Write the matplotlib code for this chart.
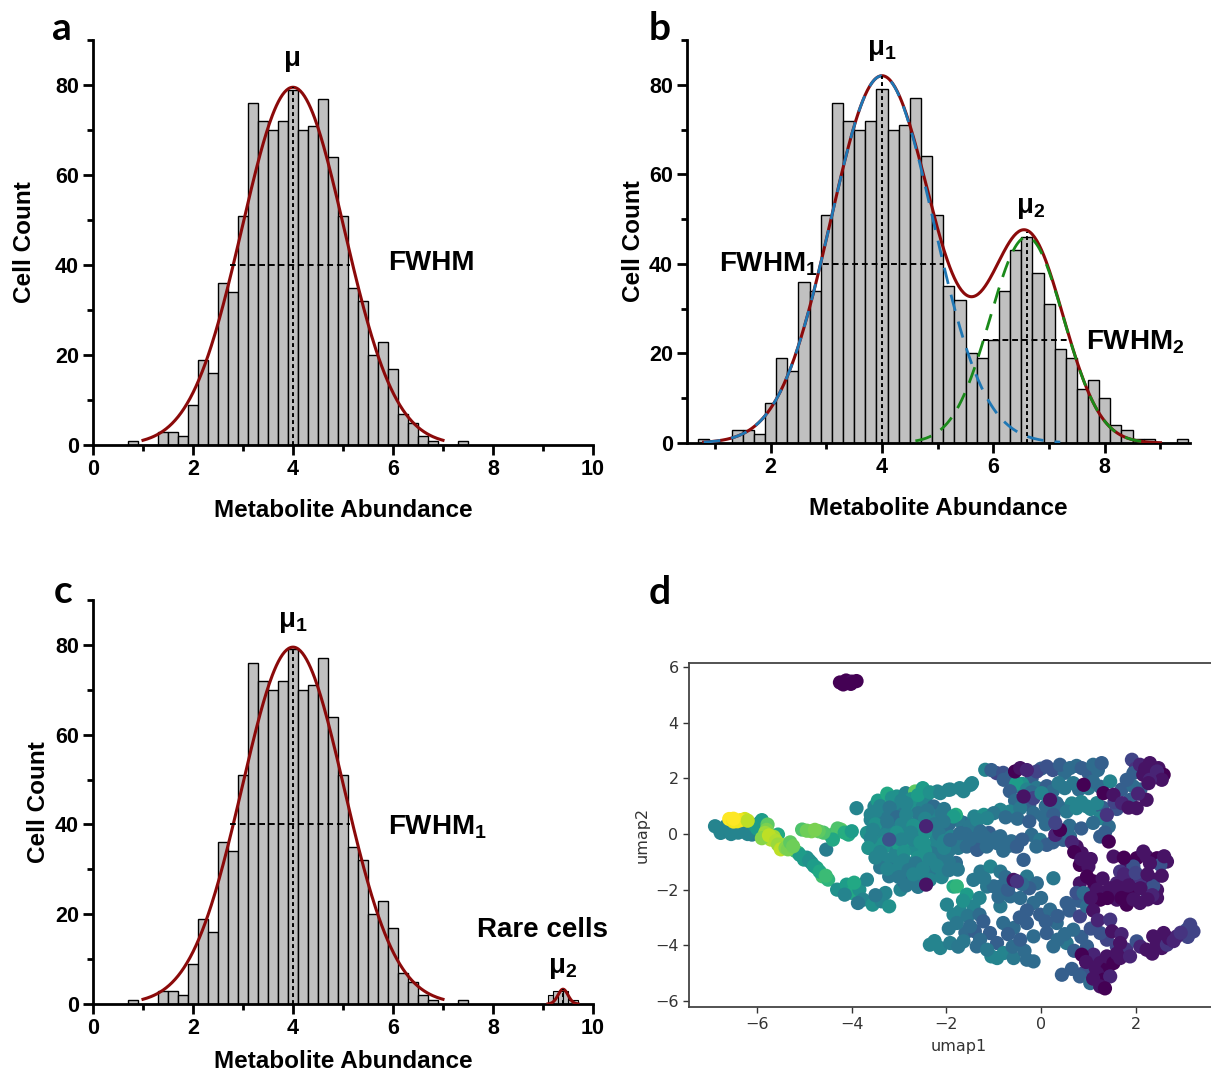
import numpy as np
import matplotlib
matplotlib.use("Agg")
import matplotlib.pyplot as plt
from matplotlib.ticker import MultipleLocator

plt.rcParams["font.family"] = ["Liberation Sans", "DejaVu Sans"]
plt.rcParams["mathtext.fontset"] = "custom"
plt.rcParams["mathtext.bf"] = "Liberation Sans:bold"
plt.rcParams["mathtext.rm"] = "Liberation Sans:bold"

# ---- histogram data (bin centres, counts), bins are 0.2 wide ----
centers_single = [0.8, 1.0, 1.2, 1.4, 1.6, 1.8, 2.0, 2.2, 2.4, 2.6, 2.8, 3.0,
                  3.2, 3.4, 3.6, 3.8, 4.0, 4.2, 4.4, 4.6, 4.8, 5.0, 5.2, 5.4,
                  5.6, 5.8, 6.0, 6.2, 6.4, 6.6, 6.8, 7.0, 7.2, 7.4]
counts_single = [1, 0, 0, 3, 3, 2, 9, 19, 16, 36, 34, 51,
                 76, 72, 70, 72, 79, 70, 71, 77, 64, 51, 35, 32,
                 20, 23, 17, 7, 5, 2, 1, 0, 0, 1]

centers_bimodal = [0.8, 1.0, 1.2, 1.4, 1.6, 1.8, 2.0, 2.2, 2.4, 2.6, 2.8, 3.0,
                   3.2, 3.4, 3.6, 3.8, 4.0, 4.2, 4.4, 4.6, 4.8, 5.0, 5.2, 5.4,
                   5.6, 5.8, 6.0, 6.2, 6.4, 6.6, 6.8, 7.0, 7.2, 7.4, 7.6, 7.8,
                   8.0, 8.2, 8.4, 8.6, 8.8, 9.0, 9.2, 9.4]
counts_bimodal = [1, 0, 0, 3, 3, 2, 9, 19, 16, 36, 34, 51,
                  76, 72, 70, 72, 79, 70, 71, 77, 64, 51, 35, 32,
                  20, 19, 23, 34, 43, 46, 38, 31, 21, 19, 12, 14,
                  10, 4, 3, 1, 1, 0, 0, 1]

# rare population in panel c (0.1 wide bins)
centers_rare = [9.15, 9.25, 9.35, 9.45, 9.55, 9.65]
counts_rare = [2, 3, 3, 3, 1, 1]

# ---- fitted gaussians: (amplitude, mean, sigma, x from, x to) ----
fit_single = (79.5, 4.0, 1.02, 1.0, 7.0)
fit_peak1 = (82.0, 4.0, 0.92, 0.8, 7.2)
fit_peak2 = (46.0, 6.6, 0.66, 4.6, 8.8)
fit_total_range = (0.8, 9.0)
fit_rare = (3.3, 9.4, 0.1, 9.1, 9.7)

# FWHM markers: (y, x start, x end)
fwhm_single = (40, 2.74, 5.14)
fwhm_b1 = (40, 2.94, 5.12)
fwhm_b2 = (23, 5.82, 7.38)

# ---- UMAP embedding, grouped by region: (umap1, umap2, colour value) ----
top_island = [(-4.25, 5.45, 0.0), (-4.12, 5.52, 0.0), (-4.0, 5.48, 0.02),
              (-3.9, 5.5, 0.0), (-4.18, 5.38, 0.0), (-4.02, 5.4, 0.0)]

left_tail = [(-6.89, 0.28, 0.45), (-6.77, 0.04, 0.45), (-6.58, 0.10, 0.42),
             (-6.45, 0.25, 0.45), (-6.30, 0.10, 0.45), (-6.11, -0.02, 0.42),
             (-6.8, 0.18, 0.45), (-6.65, 0.3, 0.45), (-6.55, 0.0, 0.45),
             (-6.4, 0.05, 0.45), (-6.2, 0.0, 0.45), (-6.05, 0.3, 0.5),
             (-5.95, 0.40, 0.5), (-6.0, 0.2, 0.55), (-5.9, 0.5, 0.55),
             (-5.56, -0.02, 0.6), (-5.13, -0.68, 0.6), (-4.95, -0.85, 0.5),
             (-5.01, -0.92, 0.55), (-4.85, -1.04, 0.5), (-4.74, -1.22, 0.6),
             (-4.62, -1.52, 0.7), (-4.50, -1.64, 0.65), (-4.54, -0.56, 0.42),
             (-5.2, -0.6, 0.7), (-5.1, -0.75, 0.55), (-4.9, -0.95, 0.5),
             (-4.8, -1.15, 0.55), (-4.68, -1.35, 0.6), (-4.55, -1.5, 0.68),
             (-4.34, 0.04, 0.72), (-4.23, 0.16, 0.75), (-4.07, -0.02, 0.6),
             (-4.45, -0.05, 0.7), (-4.3, 0.2, 0.72), (-4.15, 0.05, 0.62),
             (-4.0, 0.1, 0.55), (-4.4, -0.2, 0.6), (-4.6, 0.05, 0.72),
             (-5.05, 0.16, 0.72), (-4.85, 0.10, 0.8), (-4.70, 0.10, 0.75),
             (-4.95, 0.12, 0.78), (-4.78, 0.15, 0.8),
             (-5.78, 0.34, 0.75), (-5.8, 0.15, 0.8), (-5.83, 0.04, 0.85),
             (-5.71, -0.20, 0.88), (-5.9, -0.15, 0.82), (-5.65, -0.1, 0.86),
             (-5.75, -0.05, 0.9), (-5.6, -0.25, 0.88), (-5.56, -0.38, 0.85),
             (-5.45, -0.4, 0.85), (-5.5, -0.55, 0.9), (-5.40, -0.50, 0.82),
             (-5.35, -0.55, 0.8), (-5.3, -0.3, 0.75), (-5.24, -0.44, 0.78),
             (-6.59, 0.54, 1.0), (-6.42, 0.46, 0.97), (-6.26, 0.54, 0.93),
             (-6.5, 0.45, 0.98), (-6.35, 0.5, 0.98), (-6.2, 0.48, 0.9),
             (-6.5, 0.55, 1.0)]

lower_left = [(-4.31, -2.00, 0.5), (-4.11, -1.82, 0.55), (-3.99, -2.12, 0.6),
              (-3.84, -2.00, 0.5), (-3.68, -1.64, 0.45), (-3.76, -2.36, 0.45),
              (-3.56, -2.54, 0.5), (-3.37, -2.42, 0.45), (-3.21, -2.60, 0.5),
              (-3.87, -2.48, 0.4), (-4.15, -2.18, 0.45), (-3.29, -2.12, 0.45),
              (-2.97, -2.00, 0.45), (-3.95, -1.75, 0.6), (-3.5, -2.2, 0.4),
              (-3.90, 0.93, 0.45)]

main_cluster = [(-3.52, 0.99, 0.45), (-3.29, 1.23, 0.65), (-3.05, 1.35, 0.5),
                (-2.86, 1.47, 0.45), (-2.66, 1.53, 0.75), (-2.50, 1.65, 0.55),
                (-2.43, 1.35, 0.45), (-2.19, 1.53, 0.45), (-1.96, 1.59, 0.45),
                (-1.72, 1.65, 0.45), (-1.49, 1.77, 0.45), (-3.60, 0.51, 0.45),
                (-3.37, 0.63, 0.4), (-3.17, 0.75, 0.3), (-2.97, 0.93, 0.4),
                (-2.74, 0.99, 0.5), (-2.50, 1.11, 0.45), (-2.27, 0.99, 0.35),
                (-3.68, 0.04, 0.5), (-3.48, -0.14, 0.4), (-3.05, 0.28, 0.4),
                (-2.82, 0.40, 0.45), (-2.58, 0.51, 0.45), (-2.19, 0.51, 0.35),
                (-1.96, 0.63, 0.3), (-1.64, 0.40, 0.35), (-3.52, -0.56, 0.45),
                (-3.29, -0.44, 0.5), (-3.05, -0.62, 0.45), (-2.86, -0.44, 0.52),
                (-2.66, -0.56, 0.48), (-2.43, -0.38, 0.5), (-2.19, -0.44, 0.45),
                (-1.96, -0.38, 0.4), (-1.72, -0.26, 0.35), (-1.49, -0.38, 0.35),
                (-1.25, -0.44, 0.3), (-1.02, -0.26, 0.35), (-0.78, -0.38, 0.35),
                (-0.55, -0.44, 0.3), (-3.29, -0.92, 0.45), (-3.05, -1.16, 0.4),
                (-2.82, -1.04, 0.45), (-2.62, -1.28, 0.4), (-2.43, -1.04, 0.45),
                (-2.19, -0.92, 0.45), (-2.04, -0.80, 0.4), (-1.80, -1.04, 0.35),
                (-3.21, -1.52, 0.4), (-2.97, -1.40, 0.45), (-2.74, -1.58, 0.4),
                (-2.50, -1.52, 0.45), (-1.76, -1.28, 0.4), (-1.41, 0.63, 0.45),
                (-1.21, 0.69, 0.5), (-1.33, 0.16, 0.35), (-1.10, 0.04, 0.3),
                (-0.86, -0.08, 0.35), (-0.63, -0.26, 0.35), (-3.4, 0.3, 0.42),
                (-3.2, 0.1, 0.45), (-2.9, 0.0, 0.5), (-2.6, 0.1, 0.45),
                (-2.3, 0.2, 0.4), (-2.0, 0.1, 0.35), (-1.8, -0.1, 0.4),
                (-3.5, -0.3, 0.5), (-3.0, -0.4, 0.55), (-2.7, -0.2, 0.45),
                (-2.2, -0.15, 0.45), (-3.1, -0.8, 0.45), (-2.6, -0.85, 0.5),
                (-2.3, -0.7, 0.4), (-1.95, -0.6, 0.4), (-3.4, -1.2, 0.4),
                (-2.9, -1.7, 0.35), (-2.6, -1.9, 0.4), (-3.0, -1.2, 0.45),
                (-2.3, -1.3, 0.4), (-2.1, -1.55, 0.45), (-3.6, 0.7, 0.45),
                (-3.3, 0.85, 0.4), (-2.6, 0.75, 0.4), (-2.3, 0.65, 0.45),
                (-2.05, 0.9, 0.4), (-3.1, 1.1, 0.45), (-2.75, 1.25, 0.5),
                (-3.45, 1.2, 0.55), (-3.25, 1.45, 0.6),
                (-3.15, 1.3, 0.5), (-2.95, 1.2, 0.45), (-2.6, 1.4, 0.55),
                (-2.35, 1.5, 0.5), (-3.4, 1.0, 0.45), (-3.2, 0.95, 0.4),
                (-2.85, 1.1, 0.45), (-2.4, 0.85, 0.4), (-3.5, 0.8, 0.45),
                (-3.05, 0.6, 0.35), (-2.85, 0.7, 0.45), (-2.45, 0.55, 0.45),
                (-2.1, 0.75, 0.4), (-1.75, 0.5, 0.4), (-3.5, 0.35, 0.5),
                (-3.25, 0.45, 0.4), (-2.95, 0.35, 0.45), (-2.7, 0.3, 0.5),
                (-2.25, 0.35, 0.4), (-1.95, 0.35, 0.35), (-1.5, 0.3, 0.4),
                (-3.55, 0.15, 0.45), (-3.3, -0.05, 0.45), (-3.05, 0.05, 0.5),
                (-2.75, 0.05, 0.45), (-2.45, 0.05, 0.5), (-2.15, 0.0, 0.4),
                (-1.9, -0.1, 0.45), (-1.6, 0.0, 0.35), (-3.6, -0.15, 0.45),
                (-3.3, -0.3, 0.5), (-2.95, -0.2, 0.45), (-2.55, -0.3, 0.5),
                (-2.05, -0.25, 0.45), (-1.6, -0.2, 0.4), (-1.35, -0.15, 0.35),
                (-3.65, -0.5, 0.5), (-3.4, -0.65, 0.45), (-2.9, -0.65, 0.5),
                (-2.45, -0.6, 0.5), (-2.05, -0.5, 0.45), (-1.75, -0.5, 0.4),
                (-3.5, -0.85, 0.45), (-2.9, -0.95, 0.45), (-2.65, -1.05, 0.4),
                (-2.35, -0.9, 0.45), (-1.95, -1.0, 0.4), (-3.25, -1.25, 0.45),
                (-2.8, -1.3, 0.4), (-2.5, -1.25, 0.45), (-2.2, -1.15, 0.45),
                (-1.95, -1.3, 0.4), (-3.0, -1.55, 0.4), (-2.85, -1.85, 0.4),
                (-2.35, -1.65, 0.45), (-2.7, -1.45, 0.45),
                (-3.21, -0.20, 0.25), (-2.43, 0.28, 0.1), (-1.80, 0.69, 0.62),
                (-2.43, -1.82, 0.05)]

upper_right = [(-1.18, 2.31, 0.45), (-0.94, 2.19, 0.2), (-1.05, 2.3, 0.3),
               (-0.8, 2.2, 0.25), (-0.65, 2.05, 0.3), (-0.2, 2.0, 0.3),
               (0.0, 2.35, 0.3), (0.25, 2.3, 0.25), (0.5, 2.2, 0.35),
               (0.75, 2.45, 0.35), (1.0, 2.2, 0.3), (1.2, 2.3, 0.35),
               (-0.09, 2.25, 0.2), (0.12, 2.43, 0.25),
               (0.40, 2.49, 0.3), (0.61, 2.37, 0.35), (0.86, 2.37, 0.3),
               (1.10, 2.49, 0.35), (1.28, 2.55, 0.3), (1.92, 2.67, 0.2),
               (2.0, 2.35, 0.15), (2.37, 2.13, 0.25), (1.95, 2.19, 0.3),
               (-0.79, 1.95, 0.3), (-0.55, 1.7, 0.45), (-0.4, 1.8, 0.5),
               (-0.52, 1.83, 0.55), (-0.30, 1.60, 0.45), (-0.09, 1.66, 0.4),
               (0.12, 1.72, 0.3), (-0.2, 1.5, 0.35), (0.25, 1.55, 0.35),
               (0.5, 1.65, 0.4), (0.8, 1.6, 0.35), (1.0, 1.65, 0.4),
               (1.25, 1.7, 0.35), (1.7, 1.6, 0.3), (2.1, 1.6, 0.3),
               (0.37, 1.83, 0.4), (0.68, 1.83, 0.4), (1.10, 1.89, 0.35),
               (1.46, 1.89, 0.45), (1.88, 1.23, 0.3), (1.95, 1.71, 0.35),
               (1.81, 1.95, 0.3), (-0.66, 1.54, 0.3), (-0.55, 1.2, 0.35),
               (-0.25, 1.05, 0.3), (0.1, 1.0, 0.35), (0.4, 0.95, 0.35),
               (0.65, 1.1, 0.45), (0.85, 1.15, 0.45), (1.05, 0.9, 0.45),
               (1.3, 0.95, 0.3), (1.6, 0.9, 0.25), (1.55, 1.15, 0.2),
               (-0.16, 1.29, 0.2), (0.01, 1.47, 0.45),
               (0.33, 1.11, 0.35), (0.54, 0.81, 0.4),
               (0.75, 0.93, 0.45), (0.97, 0.99, 0.45), (1.18, 1.11, 0.45),
               (1.25, 0.57, 0.45), (1.43, 0.27, 0.35),
               (1.25, -0.09, 0.3), (-0.86, 0.87, 0.45), (-1.0, 0.75, 0.4),
               (-0.66, 0.81, 0.45), (-0.44, 0.93, 0.4), (-0.16, 0.75, 0.35),
               (0.05, 0.63, 0.35), (0.26, 0.69, 0.3), (-0.75, 0.6, 0.35),
               (-0.5, 0.55, 0.35), (-0.25, 0.45, 0.3), (0.1, 0.35, 0.35),
               (0.6, 0.3, 0.35), (0.85, 0.2, 0.3), (1.1, 0.4, 0.35),
               (1.35, 0.05, 0.3), (-0.20, -0.03, 0.35),
               (-0.02, -0.21, 0.4), (0.12, -0.39, 0.3), (-0.1, -0.45, 0.35),
               (0.25, -0.3, 0.3), (0.47, -0.21, 0.3), (0.61, -0.09, 0.35),
               (-1.85, 0.63, 0.55), (-2.06, 0.45, 0.4), (-1.35, 0.51, 0.45),
               (-1.14, 0.57, 0.45), (-1.28, 0.09, 0.35), (-1.11, -0.21, 0.35),
               (-0.93, -0.33, 0.35), (-0.72, -0.45, 0.35), (-0.51, -0.45, 0.3),
               (-1.57, -0.45, 0.35), (-1.35, -0.57, 0.3), (-1.71, 0.03, 0.35),
               (-1.92, -0.21, 0.35), (-1.2, -0.1, 0.35), (-0.95, -0.15, 0.35),
               (-0.4, -0.2, 0.3), (-1.5, -0.2, 0.35), (-1.15, -0.45, 0.35),
               (-0.8, -0.6, 0.35), (-0.37, -0.93, 0.3), (-2.13, 1.47, 0.45),
               (-1.92, 1.60, 0.45), (-1.64, 1.54, 0.45), (-1.46, 1.83, 0.45),
               # darker cells scattered on top
               (-0.55, 2.25, 0.0), (-0.44, 2.37, 0.05), (-0.3, 2.3, 0.1),
               (2.09, 2.49, 0.1), (2.30, 2.55, 0.05), (2.48, 2.37, 0.05),
               (2.59, 2.13, 0.0), (2.16, 2.13, 0.05), (2.2, 2.35, 0.05),
               (2.45, 2.25, 0.1), (2.55, 1.95, 0.05), (2.3, 1.95, 0.1),
               (0.90, 1.77, 0.0), (1.32, 1.47, 0.0), (1.53, 1.41, 0.05),
               (1.71, 1.11, 0.1), (2.02, 0.93, 0.05), (2.23, 1.23, 0.05),
               (2.27, 1.83, 0.05), (2.05, 1.45, 0.1), (1.85, 0.95, 0.05),
               (-0.37, 1.35, 0.05), (0.19, 1.23, 0.05), (1.39, 0.69, 0.15),
               (1.43, -0.27, 0.0), (0.30, -0.03, 0.1), (0.40, 0.15, 0.0),
               (0.3, 0.4, 0.2), (0.75, -0.45, 0.05), (0.86, -0.69, 0.05),
               (0.65, -0.3, 0.1), (0.7, -0.65, 0.0), (0.93, -1.05, 0.0),
               (0.82, -1.11, 0.0), (1.00, -1.17, 0.05), (1.05, -0.9, 0.05),
               (0.85, -0.9, 0.05)]

right_block = [(1.53, -0.81, 0.05), (1.81, -0.99, 0.05), (2.02, -0.87, 0.0),
               (2.23, -0.81, 0.05), (2.45, -0.87, 0.0), (2.66, -0.99, 0.05),
               (2.16, -0.63, 0.05), (2.52, -1.11, 0.25), (1.95, -1.17, 0.25),
               (1.67, -1.35, 0.15), (1.60, -1.77, 0.1), (1.81, -1.65, 0.05),
               (2.09, -1.71, 0.15), (2.37, -1.65, 0.05), (2.45, -2.01, 0.05),
               (2.23, -2.07, 0.25), (1.95, -2.01, 0.0), (1.67, -2.13, 0.05),
               (0.26, -1.59, 0.4), (0.82, -1.77, 0.05), (0.97, -1.53, 0.0),
               (1.11, -2.01, 0.05), (1.25, -2.13, 0.0), (1.60, -1.88, 0.05),
               (1.95, -2.12, 0.0), (2.23, -2.00, 0.1), (2.45, -2.30, 0.05),
               (2.09, -2.48, 0.05), (1.81, -2.54, 0.0), (1.60, -2.36, 0.05),
               (2.37, -1.88, 0.25), (1.75, -0.85, 0.0), (2.3, -1.05, 0.05),
               (2.6, -0.8, 0.05), (1.75, -1.45, 0.1), (2.0, -1.4, 0.2),
               (2.25, -1.45, 0.05), (2.55, -1.5, 0.05), (1.85, -1.85, 0.05),
               (2.1, -1.95, 0.05), (2.35, -2.2, 0.1), (1.7, -2.3, 0.0),
               (1.95, -2.35, 0.05), (2.25, -2.35, 0.05), (1.45, -1.95, 0.05),
               (1.4, -2.3, 0.0), (1.1, -1.7, 0.0), (1.3, -1.6, 0.05)]

lower_middle = [(-1.85, -1.89, 0.6), (-1.28, -1.35, 0.4), (-1.07, -1.17, 0.45),
                (-0.86, -1.35, 0.4), (-0.30, -1.53, 0.4),
                (-0.09, -1.77, 0.35), (-1.43, -1.65, 0.4), (-1.14, -1.89, 0.4),
                (-0.86, -1.89, 0.35), (-1.78, -1.88, 0.65), (-1.57, -2.18, 0.55),
                (-1.99, -2.54, 0.45), (-1.71, -2.78, 0.45), (-1.43, -2.60, 0.45),
                (-1.65, -2.4, 0.5), (-1.3, -2.3, 0.45), (-1.85, -2.9, 0.45),
                (-1.55, -2.95, 0.4), (-1.3, -2.9, 0.35), (-1.95, -3.4, 0.4),
                (-1.6, -3.55, 0.35), (-1.4, -3.5, 0.3),
                (-1.78, -3.20, 0.4), (-1.50, -3.32, 0.35), (-1.22, -3.14, 0.3),
                (-1.08, -3.56, 0.3), (-1.29, -3.80, 0.35), (-0.93, -3.92, 0.3),
                (-0.79, -4.28, 0.45), (-0.58, -4.46, 0.4), (-0.30, -4.52, 0.35),
                (-0.16, -4.58, 0.35), (-0.93, -4.46, 0.45), (-1.05, -4.4, 0.45),
                (-2.35, -3.98, 0.45), (-2.25, -3.85, 0.45), (-2.13, -4.10, 0.45),
                (-1.92, -3.92, 0.42), (-1.75, -4.05, 0.4), (-1.64, -3.86, 0.4),
                (-1.36, -4.04, 0.35), (-1.14, -4.16, 0.4), (-0.58, -3.38, 0.35),
                (-0.8, -3.2, 0.35), (-0.7, -3.6, 0.3), (-0.6, -4.05, 0.35),
                (-0.35, -4.2, 0.35), (-0.44, -3.80, 0.3), (-0.30, -3.20, 0.3),
                (-0.16, -3.68, 0.35), (-0.65, -2.24, 0.35), (-0.86, -2.60, 0.4),
                (-0.44, -2.30, 0.35), (-0.16, -2.48, 0.35), (-1.00, -1.88, 0.35),
                (-0.9, -2.25, 0.35), (-0.3, -2.75, 0.3), (-0.45, -3.0, 0.3),
                (-0.7, -2.0, 0.3), (-0.25, -1.95, 0.3), (-1.2, -1.6, 0.4),
                (-0.75, -1.55, 0.35), (-0.4, -1.8, 0.35), (0.0, -2.3, 0.35),
                (-0.58, -1.65, 0.05), (-0.51, -1.70, 0.15)]

lower_right = [(-0.02, -2.90, 0.3), (0.19, -2.72, 0.35), (0.33, -3.20, 0.35),
               (0.12, -3.56, 0.3), (0.26, -4.04, 0.35), (0.54, -3.92, 0.4),
               (0.1, -3.15, 0.3), (0.35, -2.95, 0.3), (0.6, -2.75, 0.3),
               (0.8, -2.4, 0.3), (0.5, -3.6, 0.35), (0.35, -3.8, 0.35),
               (0.85, -3.7, 0.3), (0.7, -4.2, 0.3), (0.65, -4.85, 0.3),
               (0.9, -5.0, 0.25), (0.68, -3.44, 0.35), (0.82, -2.96, 0.2),
               (0.97, -2.60, 0.35), (0.54, -2.48, 0.3), (0.75, -2.12, 0.25),
               (0.90, -2.12, 0.35), (0.97, -4.04, 0.3), (1.60, -4.04, 0.2),
               (1.39, -3.80, 0.2), (1.25, -3.56, 0.25), (1.05, -3.4, 0.25),
               (0.82, -5.12, 0.3), (1.04, -5.36, 0.35), (0.44, -5.06, 0.3),
               (1.8, -4.15, 0.15), (2.02, -3.86, 0.25), (3.08, -3.44, 0.25),
               (3.15, -3.26, 0.2), (3.22, -3.50, 0.2), (3.1, -3.7, 0.2),
               (1.18, -2.00, 0.05), (1.25, -2.36, 0.0), (1.05, -2.3, 0.05),
               (1.1, -2.75, 0.05), (1.2, -3.1, 0.1), (1.46, -3.08, 0.15),
               (1.5, -3.5, 0.05), (1.7, -3.6, 0.1), (1.67, -3.92, 0.05),
               (1.11, -4.34, 0.1), (0.86, -4.34, 0.0), (0.95, -4.6, 0.05),
               (1.25, -4.64, 0.05), (1.15, -4.8, 0.05), (1.4, -4.85, 0.0),
               (1.39, -4.40, 0.05), (1.53, -4.64, 0.0), (1.67, -4.46, 0.05),
               (1.6, -4.3, 0.05), (1.88, -4.40, 0.1), (1.18, -5.00, 0.05),
               (1.32, -5.24, 0.0), (1.46, -5.12, 0.1), (1.1, -5.2, 0.05),
               (1.25, -5.48, 0.05), (1.35, -5.55, 0.0), (2.1, -4.05, 0.1),
               (2.23, -4.16, 0.05), (2.35, -4.3, 0.05), (2.45, -3.92, 0.05),
               (2.55, -4.1, 0.05), (2.37, -3.68, 0.05), (2.59, -3.56, 0.05),
               (2.66, -3.98, 0.15), (2.7, -3.75, 0.05), (2.8, -3.85, 0.1),
               (2.87, -3.68, 0.1), (2.95, -3.55, 0.15)]

umap_regions = [left_tail, lower_left, main_cluster, upper_right, lower_middle,
                right_block, lower_right, top_island]


def gauss(x, amp, mu, sig):
    return amp * np.exp(-(x - mu) ** 2 / (2 * sig ** 2))


W, H = 1211, 1076
fig = plt.figure(figsize=(W / 100, H / 100), dpi=100)

BAR_COLOR = "#c0c0c0"
FIT_COLOR = "#8b0a0a"
LBL = 17.5
TICK = 15.5
ANN = 20


def style_hist(ax, xlim, ylabelpad, xlabelpad=14):
    ax.set_xlim(*xlim)
    ax.set_ylim(0, 90)
    ax.spines[["top", "right"]].set_visible(False)
    for s in ["left", "bottom"]:
        ax.spines[s].set_linewidth(2)
    ax.xaxis.set_major_locator(MultipleLocator(2))
    ax.xaxis.set_minor_locator(MultipleLocator(1))
    ax.yaxis.set_major_locator(MultipleLocator(20))
    ax.yaxis.set_minor_locator(MultipleLocator(10))
    ax.tick_params(which="major", direction="out", length=7, width=2,
                   labelsize=TICK, pad=3)
    ax.tick_params(which="minor", direction="out", length=4, width=2)
    for lab in ax.get_xticklabels() + ax.get_yticklabels():
        lab.set_fontweight("bold")
    ax.set_xlabel("Metabolite Abundance", fontsize=LBL, fontweight="bold",
                  labelpad=xlabelpad)
    ax.set_ylabel("Cell Count", fontsize=LBL, fontweight="bold",
                  labelpad=ylabelpad)


def draw_fit(ax, fit, color=FIT_COLOR, ls="-", lw=2.2):
    amp, mu, sig, x0, x1 = fit
    xs = np.linspace(x0, x1, 300)
    ax.plot(xs, gauss(xs, amp, mu, sig), color=color, ls=ls, lw=lw, zorder=4)


def mean_line(ax, x, top):
    ax.plot([x, x], [0, top], color="black", lw=1.4, ls=(0, (2, 1.6)), zorder=5)


def fwhm_line(ax, spec):
    y, x0, x1 = spec
    ax.plot([x0, x1], [y, y], color="black", lw=1.4, ls=(0, (3, 2)), zorder=5)


# ---------------- panel a ----------------
ax_a = fig.add_axes([93 / W, 1 - 445 / H, 500 / W, 405 / H])
ax_a.bar(centers_single, counts_single, width=0.2, color=BAR_COLOR,
         edgecolor="black", linewidth=1.0, zorder=2)
draw_fit(ax_a, fit_single)
mean_line(ax_a, fit_single[1], fit_single[0])
fwhm_line(ax_a, fwhm_single)
style_hist(ax_a, (0, 10), 14)
ax_a.text(4.0, 85.8, "μ", fontsize=ANN, fontweight="bold", ha="center", va="center")
ax_a.text(5.9, 40.5, "FWHM", fontsize=ANN, fontweight="bold", ha="left", va="center")

# ---------------- panel b ----------------
ax_b = fig.add_axes([687 / W, 1 - 443 / H, 503 / W, 403 / H])
ax_b.bar(centers_bimodal, counts_bimodal, width=0.2, color=BAR_COLOR,
         edgecolor="black", linewidth=1.0, zorder=2)
xs_tot = np.linspace(fit_total_range[0], fit_total_range[1], 400)
ax_b.plot(xs_tot, gauss(xs_tot, *fit_peak1[:3]) + gauss(xs_tot, *fit_peak2[:3]),
          color=FIT_COLOR, lw=2.2, zorder=4)
draw_fit(ax_b, fit_peak1, color="#1f77b4", ls=(0, (6, 4)), lw=2.0)
draw_fit(ax_b, fit_peak2, color="#1a8a1a", ls=(0, (6, 4)), lw=2.0)
mean_line(ax_b, fit_peak1[1], fit_peak1[0])
mean_line(ax_b, fit_peak2[1], fit_peak2[0] + 1.2)
fwhm_line(ax_b, fwhm_b1)
fwhm_line(ax_b, fwhm_b2)
style_hist(ax_b, (0.5, 9.53), 3)
ax_b.text(4.0, 87.8, r"μ$_\mathbf{1}$", fontsize=ANN, fontweight="bold",
          ha="center", va="center")
ax_b.text(6.66, 52.5, r"μ$_\mathbf{2}$", fontsize=ANN, fontweight="bold",
          ha="center", va="center")
ax_b.text(2.85, 40.0, r"FWHM$_\mathbf{1}$", fontsize=ANN, fontweight="bold",
          ha="right", va="center")
ax_b.text(7.66, 22.5, r"FWHM$_\mathbf{2}$", fontsize=ANN, fontweight="bold",
          ha="left", va="center")

# ---------------- panel c ----------------
ax_c = fig.add_axes([93 / W, 1 - 1004 / H, 500 / W, 404 / H])
ax_c.bar(centers_single, counts_single, width=0.2, color=BAR_COLOR,
         edgecolor="black", linewidth=1.0, zorder=2)
ax_c.bar(centers_rare, counts_rare, width=0.1, color=BAR_COLOR,
         edgecolor="black", linewidth=0.8, zorder=2)
draw_fit(ax_c, fit_single)
draw_fit(ax_c, fit_rare)
mean_line(ax_c, fit_single[1], fit_single[0])
mean_line(ax_c, fit_rare[1], fit_rare[0])
fwhm_line(ax_c, fwhm_single)
style_hist(ax_c, (0, 10), 4, xlabelpad=8)
ax_c.text(4.0, 85.1, r"μ$_\mathbf{1}$", fontsize=ANN, fontweight="bold",
          ha="center", va="center")
ax_c.text(5.9, 39.5, r"FWHM$_\mathbf{1}$", fontsize=ANN, fontweight="bold",
          ha="left", va="center")
ax_c.text(7.68, 16.5, "Rare cells", fontsize=ANN, fontweight="bold",
          ha="left", va="center")
ax_c.text(9.4, 8.0, r"μ$_\mathbf{2}$", fontsize=ANN, fontweight="bold",
          ha="center", va="center")

# ---------------- panel d ----------------
ax_d = fig.add_axes([689 / W, 1 - 1007 / H, 539 / W, 344 / H])
pts = [p for region in umap_regions for p in region]
ux = [p[0] for p in pts]
uy = [p[1] for p in pts]
uv = [p[2] for p in pts]
ax_d.scatter(ux, uy, c=uv, cmap="viridis", vmin=0, vmax=1, s=105,
             linewidths=0)
ax_d.set_xlim(-7.44, 3.95)
ax_d.set_ylim(-6.22, 6.15)
ax_d.set_xticks([-6, -4, -2, 0, 2])
ax_d.set_yticks([-6, -4, -2, 0, 2, 4, 6])
for s in ax_d.spines.values():
    s.set_color("#444444")
    s.set_linewidth(1.3)
ax_d.tick_params(labelsize=11.5, colors="#333333", length=4, width=1)
for lab in ax_d.get_xticklabels() + ax_d.get_yticklabels():
    lab.set_family("DejaVu Sans")
ax_d.set_xlabel("umap1", fontsize=11.5, color="#333333", family="DejaVu Sans",
                labelpad=5)
ax_d.set_ylabel("umap2", fontsize=11.5, color="#333333", family="DejaVu Sans",
                labelpad=4)

# ---------------- panel letters ----------------
for letter, px, py in [("a", 62, 40), ("b", 660, 40), ("c", 63, 603), ("d", 660, 604)]:
    fig.text(px / W, 1 - py / H, letter, fontsize=28, fontweight="bold",
             family=["Lato", "DejaVu Sans"], ha="center", va="baseline")

fig.savefig("out.png", dpi=100)
